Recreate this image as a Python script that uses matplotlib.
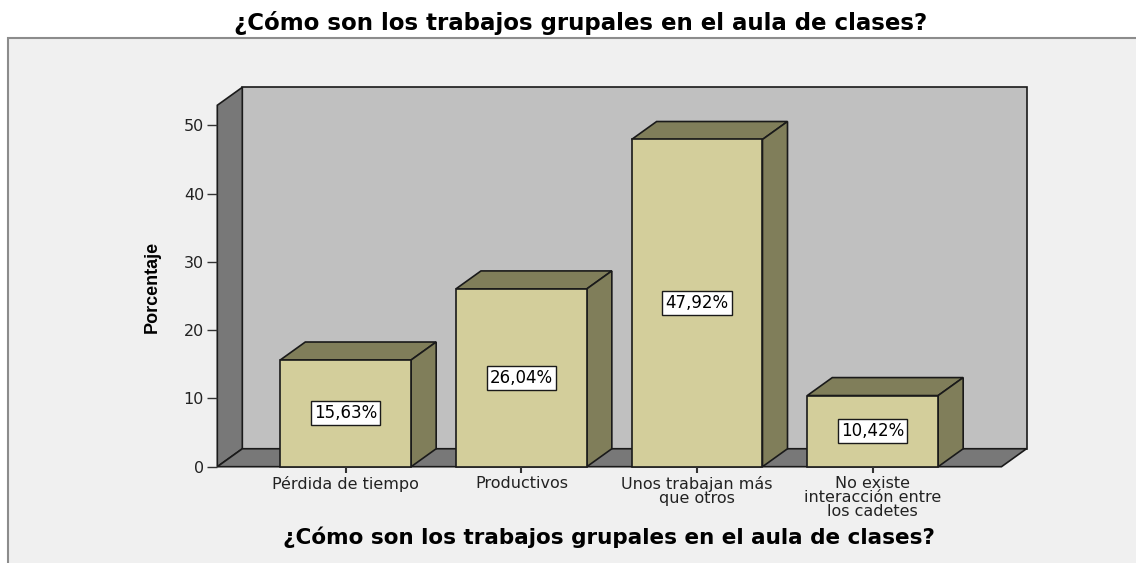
import matplotlib
matplotlib.use('Agg')
import matplotlib.pyplot as plt
from matplotlib.patches import Rectangle, Polygon
from matplotlib import font_manager

categories = ['Pérdida de tiempo', 'Productivos', 'Unos trabajan más\nque otros',
              'No existe\ninteracción entre\nlos cadetes']
percentages = [15.63, 26.04, 47.92, 10.42]
value_labels = ['15,63%', '26,04%', '47,92%', '10,42%']
yticks = [0, 10, 20, 30, 40, 50]
title = '¿Cómo son los trabajos grupales en el aula de clases?'

FRONT = '#d3ce9b'
SHADE = '#807e5a'
BACK_WALL = '#c0c0c0'
SIDE_WALL = '#787878'
EDGE = '#1a1a1a'

# pick a narrow bold font for the rotated y label if there is one
names = {f.name for f in font_manager.fontManager.ttflist}
narrow = 'Liberation Sans'
for cand in ['Liberation Sans Narrow', 'DejaVu Sans Condensed']:
    if cand in names:
        narrow = cand
        break

W, H = 1136, 563
fig = plt.figure(figsize=(W / 100, H / 100), dpi=100, facecolor='white')

# light grey panel behind the chart
fig.patches.append(Rectangle((8 / W, -0.05), 1.1, (H - 38) / H + 0.05, transform=fig.transFigure,
                             fc='#f0f0f0', ec='#8c8c8c', lw=1.5, zorder=-10))

# 3d frame geometry (data units)
x0, x1 = -0.731, 3.733
ytop = 52.93
dx, dy = 0.1424, 2.63
bw = 0.745

ax = fig.add_axes([217.3 / W, (H - 466.7) / H, (1026.5 - 217.3) / W, (466.7 - 87.3) / H])
ax.set_xlim(x0, x1 + dx)
ax.set_ylim(0, ytop + dy)
ax.patch.set_visible(False)
for s in ax.spines.values():
    s.set_visible(False)

# back wall, left wall, floor
ax.add_patch(Rectangle((x0 + dx, dy), x1 - x0, ytop, fc=BACK_WALL, ec=EDGE, lw=1.2, clip_on=False))
ax.add_patch(Polygon([(x0, 0), (x0, ytop), (x0 + dx, ytop + dy), (x0 + dx, dy)],
                     fc=SIDE_WALL, ec=EDGE, lw=1.2, clip_on=False))
ax.add_patch(Polygon([(x0, 0), (x1, 0), (x1 + dx, dy), (x0 + dx, dy)],
                     fc=SIDE_WALL, ec=EDGE, lw=1.2, clip_on=False))

for i, (v, lab) in enumerate(zip(percentages, value_labels)):
    l, r = i - bw / 2, i + bw / 2
    ax.add_patch(Polygon([(l, v), (r, v), (r + dx, v + dy), (l + dx, v + dy)],
                         fc=SHADE, ec=EDGE, lw=1.2, clip_on=False))
    ax.add_patch(Polygon([(r, 0), (r, v), (r + dx, v + dy), (r + dx, dy)],
                         fc=SHADE, ec=EDGE, lw=1.2, clip_on=False))
    ax.add_patch(Rectangle((l, 0), bw, v, fc=FRONT, ec=EDGE, lw=1.2, clip_on=False))
    ax.text(i, v / 2, lab, ha='center', va='center', fontsize=12, color='black',
            bbox=dict(boxstyle='square,pad=0.18', fc='white', ec=EDGE, lw=1))

ax.set_yticks(yticks)
ax.set_yticklabels([str(t) for t in yticks], fontsize=11.5, color='#222222')
ax.tick_params(axis='y', direction='out', length=7.5, width=1, color='#333333', pad=2)
ax.set_xticks(range(len(categories)))
ax.set_xticklabels(categories, fontsize=11.5, color='#222222', linespacing=0.88)
ax.tick_params(axis='x', direction='out', length=4, width=1.5, color='#333333', pad=3)

fig.text(152 / W, 1 - 287 / H, 'Porcentaje', rotation=90, ha='center', va='center',
         fontsize=13, fontweight='bold', family=narrow)
fig.text(581 / W, 1 - 23 / H, title, ha='center', va='center', fontsize=16.5, fontweight='bold')
fig.text(609 / W, 1 - 537 / H, title, ha='center', va='center', fontsize=15.5, fontweight='bold')

fig.savefig('out.png', dpi=100, facecolor='white')
